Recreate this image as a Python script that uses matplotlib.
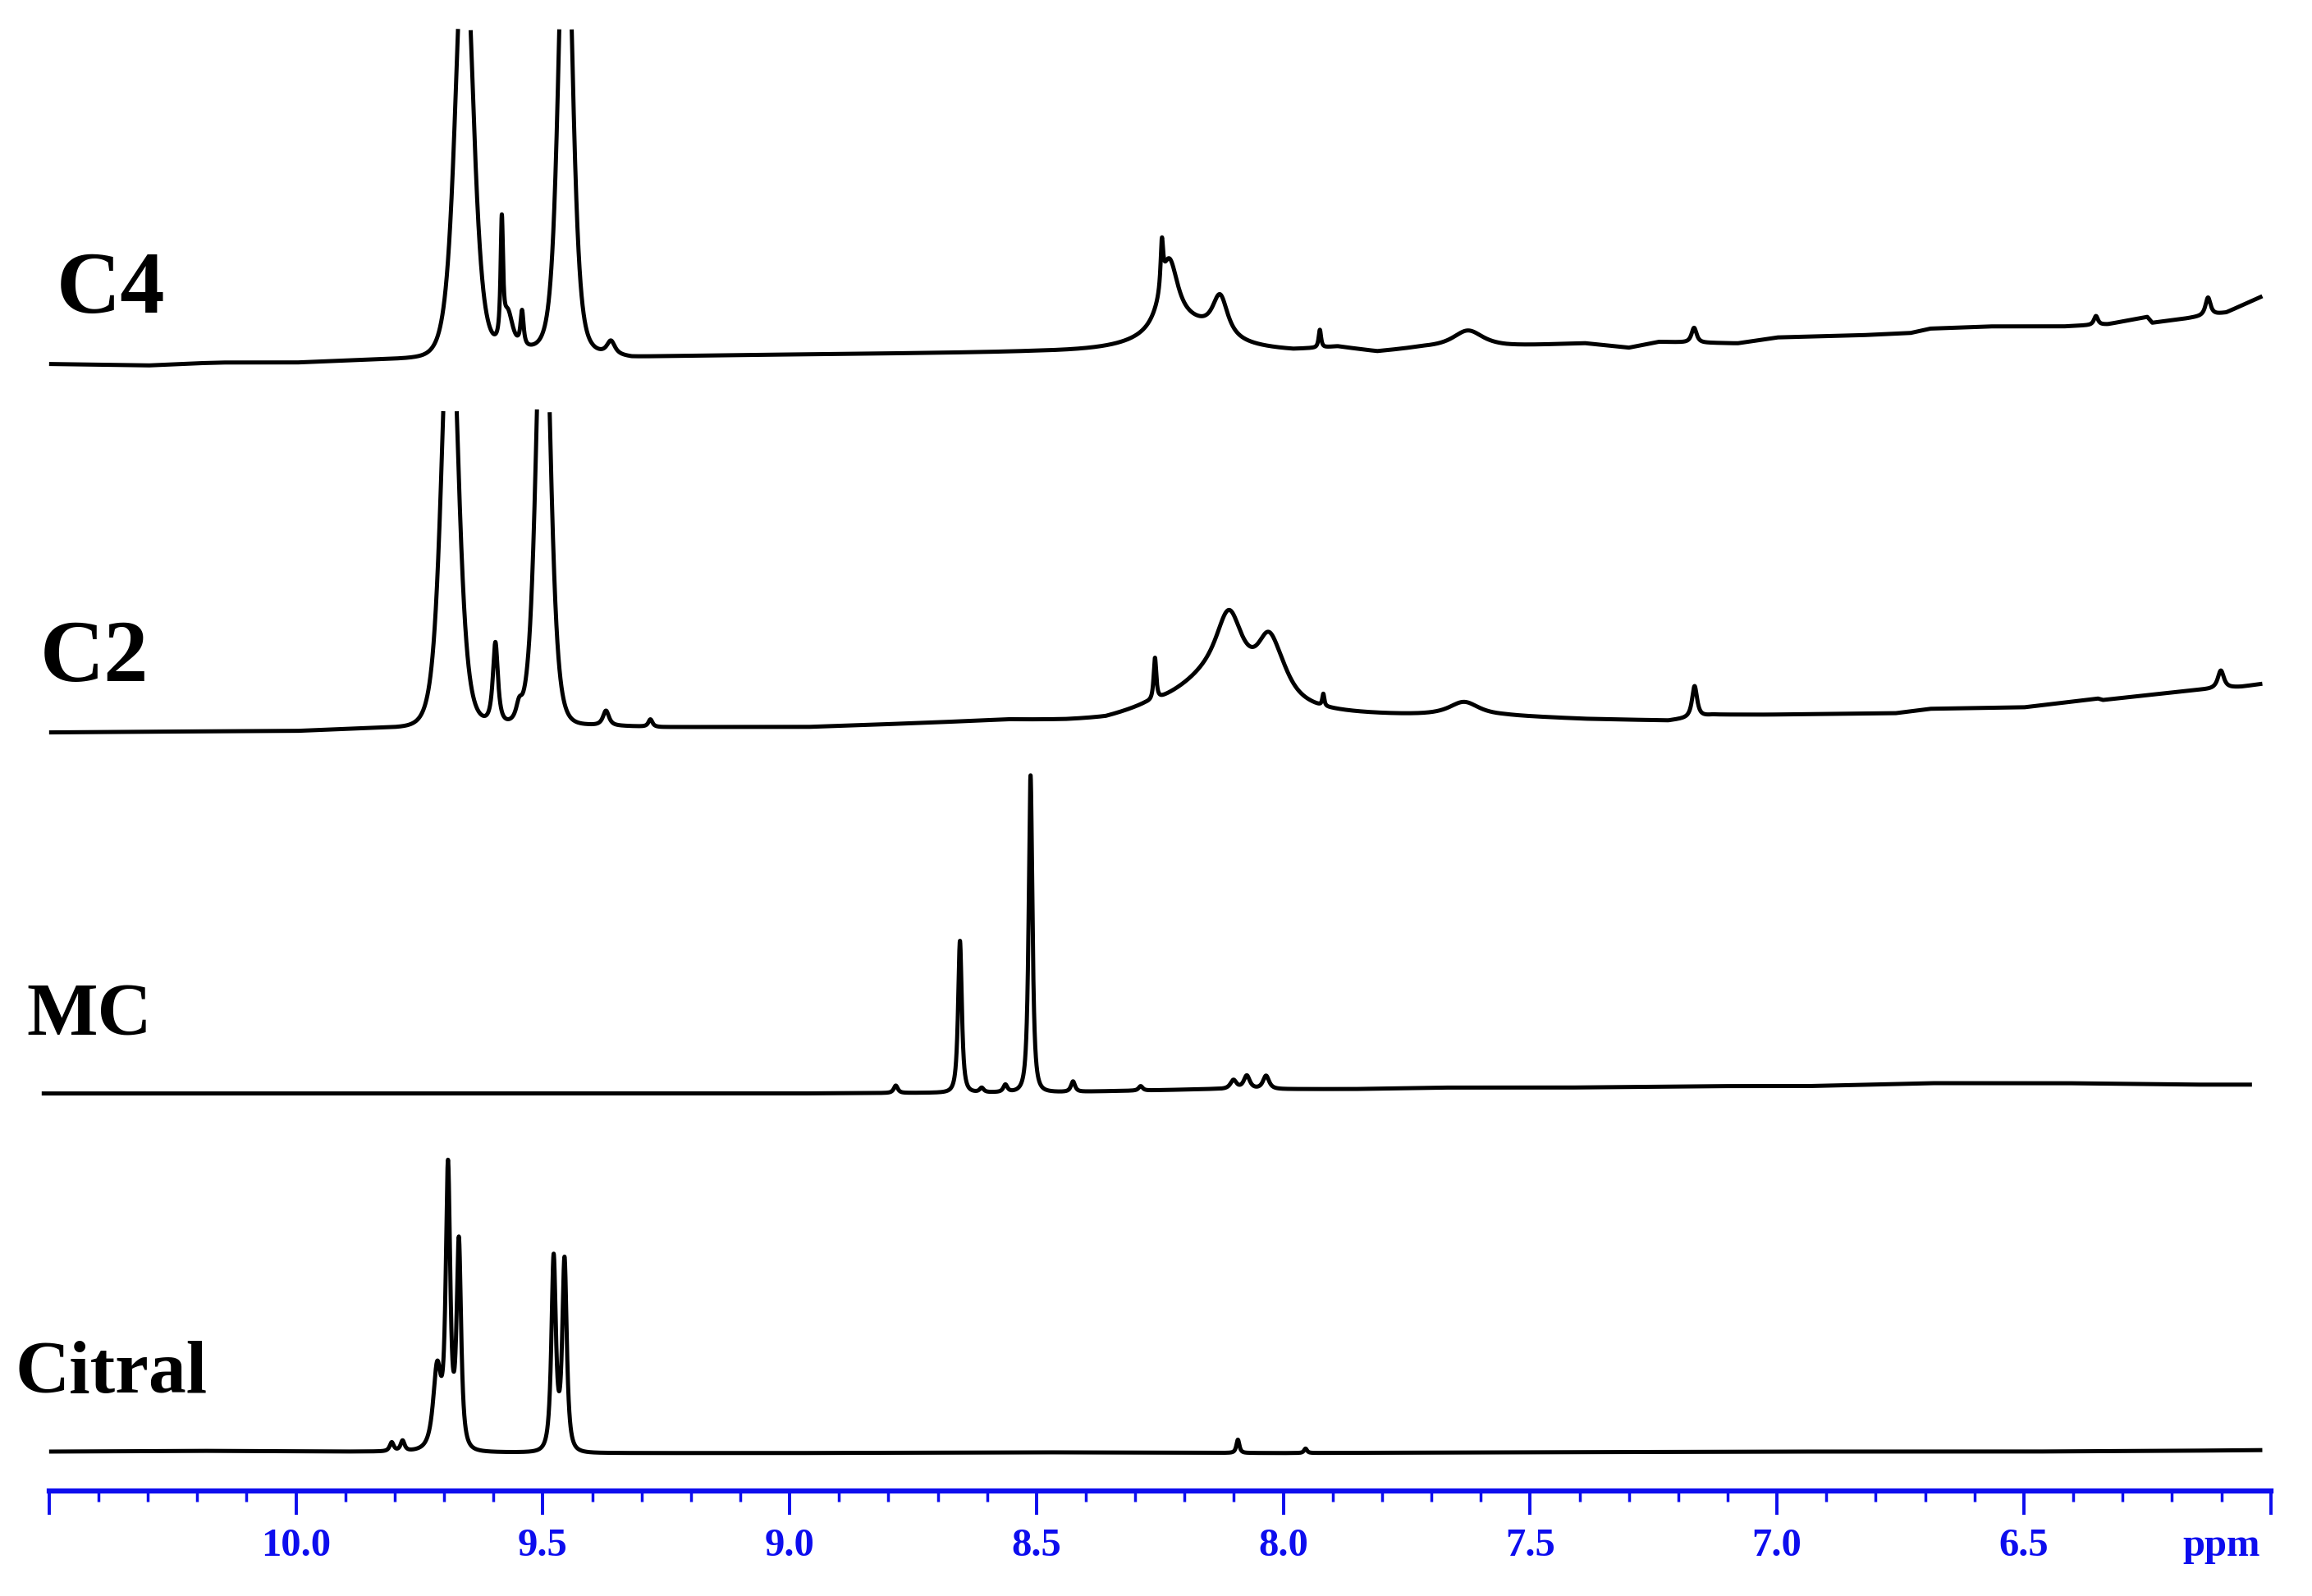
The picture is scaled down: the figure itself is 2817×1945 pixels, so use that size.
import matplotlib
matplotlib.use('Agg')
import matplotlib.pyplot as plt
from matplotlib.ticker import FixedLocator, FixedFormatter
import numpy as np

BLUE = '#0d0dee'
SERIF = 'Liberation Serif'

# sample names, top of stack first
SAMPLES = ['C4', 'C2', 'MC', 'Citral']

# ---- C4 ----
C4_RANGE = (10.50, 6.017)
C4_BASE_PPM = [10.50, 10.40, 10.30, 10.20, 10.15, 10.00, 9.85, 9.76, 9.62, 9.55, 9.50, 9.40, 9.32, 9.11,
               8.81, 8.51, 8.44, 8.33, 7.98, 7.89, 7.81, 7.72, 7.55, 7.39, 7.30, 7.24, 7.08, 7.00,
               6.83, 6.73, 6.69, 6.57, 6.42, 6.33, 6.25, 6.24, 6.17, 6.09, 6.017]
C4_BASE_VAL = [0, -0.5, -1, 0.5, 1, 1, 3, 4, 5, 10, 10, 8, 5, 6,
               7, 8, 8, 8, 8, 11, 8, 11, 12, 14, 11, 15, 14, 18,
               19.5, 21, 24, 25.5, 25.5, 27, 32, 28, 31, 35, 46]
# saturated aldehyde signals (run off the top of the panel)
C4_MAIN_PPM = [9.659, 9.454]
C4_MAIN_HT = [293, 342]
C4_MAIN_WD = [.0411, .0313]
C4_PEAK_PPM = [9.583, 9.571, 9.542, 9.362, 8.246, 8.232, 8.199, 8.128,
               7.926, 7.626, 7.168, 6.354, 6.127]
C4_PEAK_HT = [78, 25, 23, 9, 30, 45, 20, 26, 12, 11, 10, 6, 12]
C4_PEAK_WD = [.0036, .0149, .0045, .0119, .0037, .0261, .1118, .0224,
              .0036, .045, .0075, .006, .0075]

# ---- C2 ----
C2_RANGE = (10.50, 6.017)
C2_BASE_PPM = [10.50, 10.30, 10.00, 9.85, 9.78, 9.62, 9.55, 9.45, 9.41, 9.35, 9.26, 8.96, 8.83, 8.56,
               8.44, 8.36, 8.28, 7.90, 7.71, 7.55, 7.39, 7.22, 7.13, 7.02, 6.76, 6.69, 6.50, 6.35,
               6.34, 6.16, 6.06, 6.017]
C2_BASE_VAL = [0, 0.5, 1, 3, 3.5, 5, 5, 5, 5, 4.5, 3.6, 3.6, 5, 8,
               7, 7, 11, 11, 11, 11, 9, 8, 12, 12, 13, 16, 17, 23,
               22, 28.6, 31, 33]
C2_MAIN_PPM = [9.688, 9.499]
C2_MAIN_HT = [306, 338]
C2_MAIN_WD = [.0382, .0316]
C2_PEAK_PPM = [9.596, 9.548, 9.372, 9.282, 8.260, 8.125, 8.110, 8.030,
               8.006, 7.919, 7.634, 7.167, 6.101]
C2_PEAK_HT = [55, 10, 10, 5, 28, 30, 40, 31, 10, 8, 9, 21, 12]
C2_PEAK_WD = [.0075, .0089, .0089, .006, .0039, .1304, .0373, .0335,
              .0373, .003, .0447, .0075, .009]

# ---- MC ----
MC_RANGE = (10.515, 6.038)
MC_BASE_PPM = [10.515, 10.00, 9.00, 8.70, 8.45, 8.29, 8.15, 7.98, 7.86, 7.68, 7.58, 7.43, 7.12,
               6.94, 6.69, 6.42, 6.16, 6.038]
MC_BASE_VAL = [0, 0, 0, 0.5, 1, 2, 3, 3, 3, 4, 4, 4, 5, 5, 7, 7, 6, 6]
MC_MAIN_PPM = []
MC_MAIN_HT = []
MC_MAIN_WD = []
MC_PEAK_PPM = [8.785, 8.655, 8.611, 8.563, 8.512, 8.426, 8.289, 8.101, 8.074, 8.035]
MC_PEAK_HT = [5, 103, 3, 5, 215, 7, 3, 6, 9, 9]
MC_PEAK_WD = [.006, .0055, .006, .006, .0055, .006, .006, .009, .009, .009]

# ---- Citral ----
CIT_RANGE = (10.50, 6.017)
CIT_BASE_PPM = [10.50, 10.20, 9.90, 9.75, 9.60, 9.40, 9.00, 8.50, 8.00, 7.50, 7.00, 6.50, 6.20, 6.017]
CIT_BASE_VAL = [0, 0.5, 0, 0, -0.5, -1, -1, -0.5, -1, -0.5, 0, 0, 0.5, 1]
CIT_MAIN_PPM = []
CIT_MAIN_HT = []
CIT_MAIN_WD = []
CIT_PEAK_PPM = [9.806, 9.784, 9.714, 9.692, 9.670, 9.478, 9.456, 8.092, 7.955]
CIT_PEAK_HT = [6, 7, 55, 187, 139, 131, 129, 9, 3]
CIT_PEAK_WD = [.006, .006, .0119, .0067, .0067, .0067, .0067, .0045, .0045]

# stacking offsets and clip level (signals running off the panel)
OFFSETS = [765, 515, 270, 27]
CLIPS = [227.5, 219.7, None, None]

MAJOR_TICKS = [10.5, 10.0, 9.5, 9.0, 8.5, 8.0, 7.5, 7.0, 6.5, 6.0]
MAJOR_LABELS = ['', '10.0', '9.5', '9.0', '8.5', '8.0', '7.5', '7.0', '6.5', '']


def spectrum(ppm, base_ppm, base_val, main, peaks):
    order = np.argsort(base_ppm)
    y = np.interp(ppm, np.asarray(base_ppm)[order], np.asarray(base_val)[order])
    # broad saturated lines: steeper flanks
    for c, h, w in zip(*main):
        y = y + h / (1.0 + ((ppm - c) / w) ** 2) ** 3
    for c, h, w in zip(*peaks):
        y = y + h / (1.0 + ((ppm - c) / w) ** 2) ** 1.4
    return y


traces = [
    (C4_RANGE, C4_BASE_PPM, C4_BASE_VAL, (C4_MAIN_PPM, C4_MAIN_HT, C4_MAIN_WD),
     (C4_PEAK_PPM, C4_PEAK_HT, C4_PEAK_WD)),
    (C2_RANGE, C2_BASE_PPM, C2_BASE_VAL, (C2_MAIN_PPM, C2_MAIN_HT, C2_MAIN_WD),
     (C2_PEAK_PPM, C2_PEAK_HT, C2_PEAK_WD)),
    (MC_RANGE, MC_BASE_PPM, MC_BASE_VAL, (MC_MAIN_PPM, MC_MAIN_HT, MC_MAIN_WD),
     (MC_PEAK_PPM, MC_PEAK_HT, MC_PEAK_WD)),
    (CIT_RANGE, CIT_BASE_PPM, CIT_BASE_VAL, (CIT_MAIN_PPM, CIT_MAIN_HT, CIT_MAIN_WD),
     (CIT_PEAK_PPM, CIT_PEAK_HT, CIT_PEAK_WD)),
]

fig = plt.figure(figsize=(28.17, 19.45), dpi=100)
ax = fig.add_axes([0.02124, 0.06556, 0.9609, 0.93444])

for (rng, bp, bv, main, peaks), off, clip in zip(traces, OFFSETS, CLIPS):
    ppm = np.linspace(rng[0], rng[1], 24000)
    y = spectrum(ppm, bp, bv, main, peaks)
    if clip is not None:
        y[y > clip] = np.nan
    ax.plot(ppm, off + y, color='black', lw=3.6, clip_on=False,
            solid_joinstyle='round', solid_capstyle='butt')

# sample labels
label_pos = [(10.486, 800, 78), (10.519, 550, 78), (10.546, 310, 66), (10.569, 67, 66)]
for name, (lx, ly, fs) in zip(SAMPLES, label_pos):
    ax.text(lx, ly, name, fontsize=fs, fontweight='bold', family=SERIF,
            ha='left', va='baseline', color='black')

ax.set_xlim(10.5, 6.0)
ax.set_ylim(0, 1012)
for s in ['top', 'left', 'right']:
    ax.spines[s].set_visible(False)
ax.spines['bottom'].set_color(BLUE)
ax.spines['bottom'].set_linewidth(4.5)
ax.set_yticks([])

minor = [round(10.5 - 0.1 * i, 1) for i in range(46)]
minor = [m for m in minor if m not in MAJOR_TICKS]
ax.xaxis.set_major_locator(FixedLocator(MAJOR_TICKS))
ax.xaxis.set_major_formatter(FixedFormatter(MAJOR_LABELS))
ax.xaxis.set_minor_locator(FixedLocator(minor))
ax.tick_params(axis='x', which='major', direction='out', length=21, width=2.8,
               color=BLUE, pad=11, labelcolor=BLUE, labelsize=35)
ax.tick_params(axis='x', which='minor', direction='out', length=9, width=2.5, color=BLUE)
for lab in ax.get_xticklabels():
    lab.set_fontfamily(SERIF)
    lab.set_fontweight('bold')

ax.annotate('ppm', xy=(6.1, 0), xycoords=('data', 'axes fraction'),
            xytext=(0, -32), textcoords='offset points', ha='center', va='top',
            fontsize=35, fontweight='bold', family=SERIF, color=BLUE,
            annotation_clip=False)

fig.savefig('out.png', dpi=100)
